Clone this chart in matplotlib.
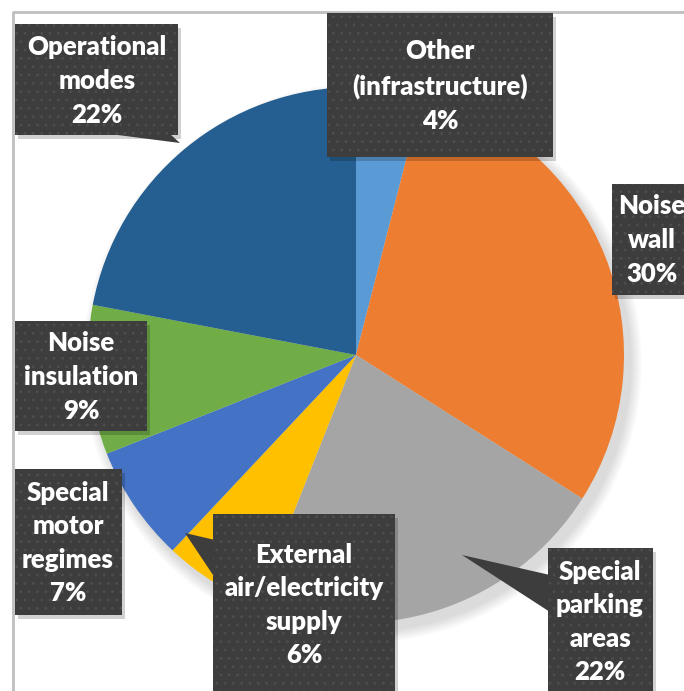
import matplotlib.pyplot as plt
from matplotlib.patches import Rectangle, Polygon, Circle

plt.rcParams['font.family'] = ['Lato', 'DejaVu Sans']
plt.rcParams['hatch.color'] = '#4c4c4c'
plt.rcParams['hatch.linewidth'] = 0.8

# cost shares of noise reduction measures
labels = ['Other\n(infrastructure)', 'Noise\nwall', 'Special\nparking\nareas',
          'External\nair/electricity\nsupply', 'Special\nmotor\nregimes',
          'Noise\ninsulation', 'Operational\nmodes']
shares = [4, 30, 22, 6, 7, 9, 22]
colors = ['#5B9BD5', '#ED7D31', '#A5A5A5', '#FFC000', '#4472C4', '#70AD47', '#255E91']

# callout boxes in pixel units: (left, top, right, bottom), text centre
boxes = [
    ((327, 13, 553, 157), (440, 86)),
    ((612, 184, 700, 295), (652, 240)),
    ((548, 548, 653, 705), (600, 622)),
    ((213, 514, 395, 705), (304, 605)),
    ((15, 469, 122, 615), (68, 543)),
    ((15, 321, 147, 431), (81, 377)),
    ((15, 24, 178, 135), (97, 81)),
]
# pointer triangles for some callouts
pointers = {
    2: [(550, 575), (550, 612), (462, 555)],
    3: [(215, 540), (215, 578), (185, 533)],
    6: [(110, 134), (170, 134), (180, 143)],
}

W, H = 684, 691
fig = plt.figure(figsize=(W / 100, H / 100), dpi=100)
ax = fig.add_axes([0, 0, 1, 1])

cx, cy, r = 356, 355, 268

# soft shadow under the pie
for i in range(12):
    ax.add_patch(Circle((cx + 6, cy + 8), r + 12 - i, color='#000000',
                        alpha=0.012, lw=0, zorder=1))

# y axis is flipped below, so angles run the other way
ax.pie(shares, colors=colors, startangle=-90, counterclock=True,
       center=(cx, cy), radius=r, frame=True,
       wedgeprops=dict(linewidth=0, zorder=2))
ax.set_xlim(0, W)
ax.set_ylim(H, 0)  # y grows downward, like screen pixels
ax.set_aspect('equal')
ax.axis('off')

# chart area border
ax.plot([13, 13, W + 5], [H + 5, 12, 12], color='#bfbfbf', lw=2, zorder=3,
        solid_capstyle='butt', clip_on=False)

for i, (lab, val) in enumerate(zip(labels, shares)):
    (x0, y0, x1, y1), (tx, ty) = boxes[i]
    ax.add_patch(Rectangle((x0 + 3, y0 + 4), x1 - x0, y1 - y0,
                           color='#000000', alpha=0.18, lw=0, zorder=4))
    if i in pointers:
        ax.add_patch(Polygon(pointers[i], closed=True, facecolor='#3d3d3d',
                             lw=0, zorder=5))
    ax.add_patch(Rectangle((x0, y0), x1 - x0, y1 - y0, facecolor='#3d3d3d',
                           edgecolor='#4e4e4e', hatch='..', lw=0, zorder=5))
    ax.text(tx, ty, f'{lab}\n{val}%', ha='center', va='center',
            color='white', fontsize=18.5, fontweight='heavy', linespacing=1.48,
            zorder=6)

fig.savefig('out.png', dpi=100)
